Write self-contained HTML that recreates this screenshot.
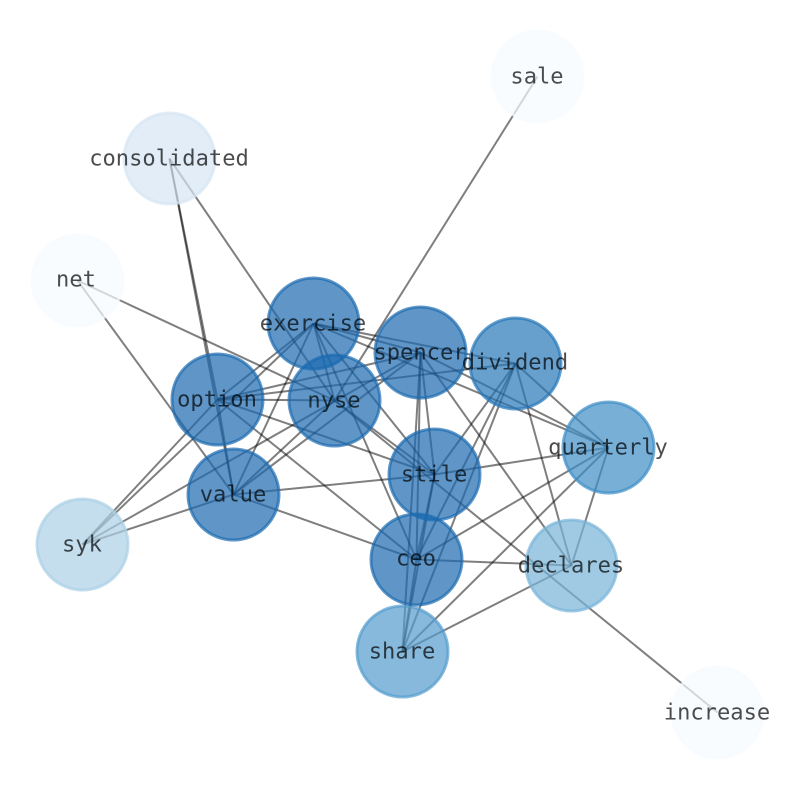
<!DOCTYPE html>
<html><head><meta charset="utf-8"><style>
html,body{margin:0;padding:0;background:#fff}
svg{display:block}
text{font-family:"DejaVu Sans Mono","Liberation Mono",monospace;font-size:22.1px;text-anchor:middle;fill:#000;fill-opacity:.7}
line{stroke:#000;stroke-opacity:.5;stroke-width:2}
circle{stroke-width:3;fill-opacity:.7;stroke-opacity:.7}
</style></head><body>
<svg width="794" height="790" viewBox="0 0 794 790" xmlns="http://www.w3.org/2000/svg">
<g transform="translate(.5 .5)">
<line x1="537" y1="76" x2="334" y2="400"/>
<line x1="169" y1="158" x2="334" y2="400"/>
<line x1="169" y1="158" x2="217" y2="399"/>
<line x1="169" y1="158" x2="233" y2="494"/>
<line x1="77" y1="280" x2="334" y2="400"/>
<line x1="77" y1="280" x2="233" y2="494"/>
<line x1="82" y1="544" x2="217" y2="399"/>
<line x1="82" y1="544" x2="313" y2="323"/>
<line x1="82" y1="544" x2="420" y2="352"/>
<line x1="82" y1="544" x2="233" y2="494"/>
<line x1="717" y1="712" x2="334" y2="400"/>
<line x1="313" y1="323" x2="420" y2="352"/>
<line x1="313" y1="323" x2="515" y2="363"/>
<line x1="313" y1="323" x2="608" y2="447"/>
<line x1="313" y1="323" x2="217" y2="399"/>
<line x1="313" y1="323" x2="233" y2="494"/>
<line x1="313" y1="323" x2="334" y2="400"/>
<line x1="313" y1="323" x2="434" y2="474"/>
<line x1="313" y1="323" x2="416" y2="559"/>
<line x1="217" y1="399" x2="334" y2="400"/>
<line x1="217" y1="399" x2="420" y2="352"/>
<line x1="217" y1="399" x2="515" y2="363"/>
<line x1="217" y1="399" x2="434" y2="474"/>
<line x1="217" y1="399" x2="416" y2="559"/>
<line x1="217" y1="399" x2="233" y2="494"/>
<line x1="233" y1="494" x2="334" y2="400"/>
<line x1="233" y1="494" x2="420" y2="352"/>
<line x1="233" y1="494" x2="434" y2="474"/>
<line x1="233" y1="494" x2="416" y2="559"/>
<line x1="334" y1="400" x2="434" y2="474"/>
<line x1="420" y1="352" x2="434" y2="474"/>
<line x1="420" y1="352" x2="416" y2="559"/>
<line x1="420" y1="352" x2="402" y2="651"/>
<line x1="420" y1="352" x2="571" y2="565"/>
<line x1="420" y1="352" x2="608" y2="447"/>
<line x1="515" y1="363" x2="434" y2="474"/>
<line x1="515" y1="363" x2="416" y2="559"/>
<line x1="515" y1="363" x2="402" y2="651"/>
<line x1="515" y1="363" x2="571" y2="565"/>
<line x1="515" y1="363" x2="608" y2="447"/>
<line x1="608" y1="447" x2="434" y2="474"/>
<line x1="608" y1="447" x2="416" y2="559"/>
<line x1="608" y1="447" x2="402" y2="651"/>
<line x1="608" y1="447" x2="571" y2="565"/>
<line x1="434" y1="474" x2="416" y2="559"/>
<line x1="434" y1="474" x2="402" y2="651"/>
<line x1="416" y1="559" x2="571" y2="565"/>
<line x1="416" y1="559" x2="402" y2="651"/>
<line x1="571" y1="565" x2="402" y2="651"/>
<circle cx="537" cy="76" r="45.5" fill="#f7fbff" stroke="#f7fbff"/>
<circle cx="717" cy="712" r="45.5" fill="#f7fbff" stroke="#f7fbff"/>
<circle cx="77" cy="280" r="45.5" fill="#f7fbff" stroke="#f7fbff"/>
<circle cx="169" cy="158" r="45.5" fill="#d6e5f4" stroke="#d6e5f4"/>
<circle cx="82" cy="544" r="45.5" fill="#abd0e6" stroke="#abd0e6"/>
<circle cx="571" cy="565" r="45.5" fill="#77b3d8" stroke="#77b3d8"/>
<circle cx="402" cy="651" r="45.5" fill="#529bcd" stroke="#529bcd"/>
<circle cx="608" cy="447" r="45.5" fill="#3d8dc6" stroke="#3d8dc6"/>
<circle cx="515" cy="363" r="45.5" fill="#2676b8" stroke="#2676b8"/>
<circle cx="420" cy="352" r="45.5" fill="#1b69af" stroke="#1b69af"/>
<circle cx="313" cy="323" r="45.5" fill="#1b69af" stroke="#1b69af"/>
<circle cx="334" cy="400" r="45.5" fill="#1b69af" stroke="#1b69af"/>
<circle cx="217" cy="399" r="45.5" fill="#1b69af" stroke="#1b69af"/>
<circle cx="434" cy="474" r="45.5" fill="#1b69af" stroke="#1b69af"/>
<circle cx="233" cy="494" r="45.5" fill="#1b69af" stroke="#1b69af"/>
<circle cx="416" cy="559" r="45.5" fill="#1b69af" stroke="#1b69af"/>
<text x="536.5" y="83">sale</text>
<text x="168.5" y="165">consolidated</text>
<text x="75.5" y="286">net</text>
<text x="312.5" y="330">exercise</text>
<text x="419.5" y="359">spencer</text>
<text x="514.5" y="369">dividend</text>
<text x="216.5" y="406">option</text>
<text x="333.5" y="407">nyse</text>
<text x="607.5" y="454">quarterly</text>
<text x="433.5" y="481">stile</text>
<text x="232.5" y="501">value</text>
<text x="81.5" y="551">syk</text>
<text x="415.5" y="565">ceo</text>
<text x="570.5" y="572">declares</text>
<text x="401.5" y="658">share</text>
<text x="716.5" y="719">increase</text>
</g>
</svg>
</body></html>
